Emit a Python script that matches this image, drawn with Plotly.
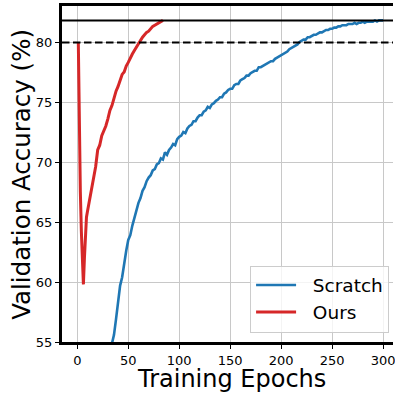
import plotly.graph_objects as go

# ---------------- data ----------------
scratch_epochs = list(range(30, 301, 2))
scratch_acc = [
    53.4, 54.2, 54.8, 55.6, 56.9, 58.3, 59.7, 60.4, 61.6, 62.6,
    63.5, 63.9, 64.7, 65.4, 65.9, 66.6, 67.0, 67.6, 67.9, 68.4,
    68.7, 68.9, 69.3, 69.4, 69.8, 69.9, 70.3, 70.2, 70.8, 70.6,
    71.0, 71.2, 71.5, 71.4, 71.9, 72.1, 72.2, 72.5, 72.4, 72.8,
    73.0, 73.1, 73.4, 73.4, 73.7, 73.9, 73.9, 74.2, 74.3, 74.6,
    74.5, 74.8, 74.9, 75.1, 75.2, 75.4, 75.4, 75.7, 75.8, 76.0,
    76.1, 76.1, 76.4, 76.5, 76.5, 76.8, 76.9, 77.0, 77.2, 77.2,
    77.4, 77.5, 77.6, 77.6, 77.9, 77.9, 78.0, 78.1, 78.2, 78.3,
    78.4, 78.4, 78.6, 78.7, 78.8, 78.9, 79.0, 79.1, 79.2, 79.4,
    79.5, 79.6, 79.7, 79.8, 80.0, 80.1, 80.2, 80.2, 80.4, 80.4,
    80.5, 80.6, 80.6, 80.7, 80.8, 80.8, 80.9, 81.0, 81.0, 81.1,
    81.1, 81.2, 81.2, 81.3, 81.3, 81.4, 81.4, 81.4, 81.5, 81.5,
    81.5, 81.6, 81.5, 81.6, 81.6, 81.7, 81.6, 81.7, 81.7, 81.7,
    81.7, 81.8, 81.7, 81.8, 81.8, 81.8,
]

ours_epochs = [1, 2, 3, 4, 5, 6, 7, 8, 9, 10] + list(range(12, 85, 2))
ours_acc = [
    80.0, 72.5, 67.5, 64.2, 61.6, 59.8, 62.0, 64.0, 65.4, 65.9,
    66.8, 67.6, 68.8, 69.6, 71.0, 71.4, 72.2, 72.6, 73.0, 73.6,
    74.3, 74.7, 75.4, 75.9, 76.3, 76.8, 77.3, 77.5, 78.0, 78.3,
    78.7, 79.0, 79.3, 79.6, 79.9, 80.1, 80.4, 80.6, 80.8, 80.9,
    81.1, 81.3, 81.4, 81.5, 81.6, 81.7, 81.8,
]

target_solid = 81.8
target_dashed = 79.95

x_ticks = [0, 50, 100, 150, 200, 250, 300]
y_ticks = [55, 60, 65, 70, 75, 80]

series_names = ["Scratch", "Ours"]

# ---------------- figure ----------------
W, H = 395, 394
L, R, T, B = 61.5, 0, 6, 52
pw, ph = W - L - R, H - T - B

def px_x(px):
    return (px - L) / pw

def px_y(py):
    return (H - B - py) / ph

NBSP = "\u00a0"

fig = go.Figure()
fig.add_trace(go.Scatter(x=scratch_epochs, y=scratch_acc, mode="lines",
                         name=NBSP * 2 + series_names[0],
                         line=dict(color="#1f77b4", width=2.6)))
fig.add_trace(go.Scatter(x=ours_epochs, y=ours_acc, mode="lines",
                         name=NBSP * 2 + series_names[1],
                         line=dict(color="#d62728", width=3)))

fig.add_shape(type="line", xref="paper", x0=0, x1=1, yref="y", y0=target_solid, y1=target_solid,
              line=dict(color="black", width=2))
fig.add_shape(type="line", xref="paper", x0=0, x1=1, yref="y", y0=target_dashed, y1=target_dashed,
              line=dict(color="black", width=2, dash="7.5px,3.5px"))

font_family = "DejaVu Sans"
fig.update_layout(
    width=W, height=H,
    margin=dict(l=L, r=R, t=T, b=B, pad=0),
    plot_bgcolor="white", paper_bgcolor="white",
    font=dict(family=font_family, color="black"),
    showlegend=True,
    legend=dict(x=px_x(251), xanchor="left", y=px_y(332.5), yanchor="bottom",
                bgcolor="rgba(255,255,255,0.8)", bordercolor="#cccccc", borderwidth=1,
                font=dict(size=18.5, family=font_family), itemwidth=40),
    xaxis=dict(range=[-15, 309.7], tickmode="array", tickvals=x_ticks,
               ticktext=[str(v) for v in x_ticks],
               showgrid=True, gridcolor="#c8c8c8", gridwidth=1,
               showline=True, linecolor="black", linewidth=3, mirror=True,
               ticks="outside", ticklen=4, tickwidth=1, tickcolor="black",
               ticklabeloverflow="allow",
               tickfont=dict(size=13), zeroline=False),
    yaxis=dict(range=[55, 83], tickmode="array", tickvals=y_ticks,
               ticktext=[str(v) for v in y_ticks],
               showgrid=True, gridcolor="#c8c8c8", gridwidth=1,
               showline=True, linecolor="black", linewidth=3,
               ticks="outside", ticklen=4, tickwidth=1, tickcolor="black",
               tickfont=dict(size=13), zeroline=False),
    annotations=[
        dict(text="Training Epochs", xref="paper", yref="paper", x=px_x(232), y=px_y(379),
             xanchor="center", yanchor="middle", showarrow=False,
             font=dict(size=24, family=font_family)),
        dict(text="Validation Accuracy (%)", xref="paper", yref="paper", x=px_x(20), y=px_y(174),
             xanchor="center", yanchor="middle", showarrow=False, textangle=-90,
             font=dict(size=24.5, family=font_family)),
    ],
)

fig.write_html("out.html")
